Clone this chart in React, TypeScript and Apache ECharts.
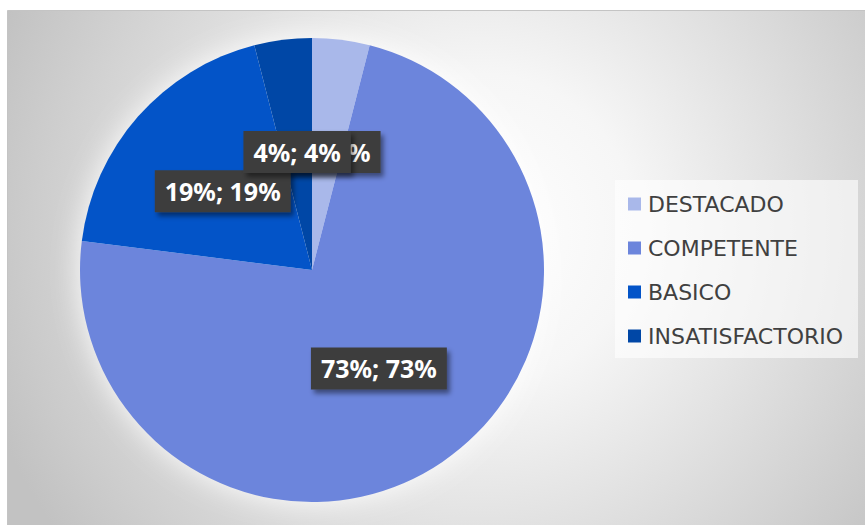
import React, { useEffect, useRef } from "react";
import * as echarts from "echarts";

const categories = ["DESTACADO", "COMPETENTE", "BASICO", "INSATISFACTORIO"];
const values = [4, 73, 19, 4];
const palette = ["#A9B8EA", "#6C85DC", "#0354C8", "#0047A6"];

export default function App() {
  const ref = useRef<HTMLDivElement>(null);
  useEffect(() => {
    const chart = echarts.init(ref.current!, null, { renderer: "svg" });
    chart.setOption({
      animation: false,
      backgroundColor: "#ffffff",
      color: palette,
      graphic: [
        {
          type: "rect",
          z: -10,
          silent: true,
          shape: { x: 7.5, y: 10.5, width: 870, height: 530 },
          style: {
            stroke: "#c4c4c4",
            lineWidth: 1,
            fill: {
              type: "radial",
              x: 480,
              y: 230,
              r: 520,
              global: true,
              colorStops: [
                { offset: 0, color: "#ffffff" },
                { offset: 0.3, color: "#f6f6f6" },
                { offset: 1, color: "#c2c2c2" },
              ],
            },
          },
        },
        {
          type: "circle",
          z: -5,
          silent: true,
          shape: { cx: 312, cy: 270, r: 231 },
          style: {
            fill: "#ffffff",
            shadowBlur: 30,
            shadowColor: "rgba(255,255,255,1)",
          },
        },
        {
          type: "rect",
          z: -5,
          silent: true,
          shape: { x: 615, y: 180, width: 243, height: 178 },
          style: { fill: "rgba(255,255,255,0.6)" },
        },
      ],
      legend: {
        orient: "vertical",
        left: 628,
        top: 193,
        padding: 0,
        icon: "rect",
        itemWidth: 13,
        itemHeight: 13,
        itemGap: 22,
        selectedMode: false,
        data: categories,
        textStyle: {
          fontFamily: "DejaVu Sans",
          fontSize: 22,
          lineHeight: 22,
          color: "#404040",
          padding: [0, 0, 0, 2],
        },
      },
      series: [
        {
          type: "pie",
          center: [312, 270],
          radius: 232,
          startAngle: 90,
          clockwise: true,
          silent: true,
          avoidLabelOverlap: false,
          minShowLabelAngle: 0,
          z: 2,
          itemStyle: { borderWidth: 0 },
          emphasis: { disabled: true },
          labelLayout: { hideOverlap: false },
          label: {
            show: true,
            position: "inside",
            formatter: (p: any) => `${p.value}%; ${Math.round(p.percent)}%`,
            color: "#ffffff",
            fontFamily: "Noto Sans",
            fontWeight: "bold",
            fontSize: 25,
            lineHeight: 25,
            backgroundColor: "#3d3d3d",
            padding: [9, 10, 8, 10],
            shadowColor: "rgba(0,0,0,0.45)",
            shadowBlur: 5,
            shadowOffsetX: 3,
            shadowOffsetY: 4,
          },
          labelLine: { show: false },
          data: categories.map((name, i) => ({ name, value: values[i] })),
        },
      ],
    });
    return () => chart.dispose();
  }, []);
  return (
    <div
      ref={ref}
      style={{ position: "fixed", left: 0, top: 0, width: 865, height: 525 }}
    />
  );
}
